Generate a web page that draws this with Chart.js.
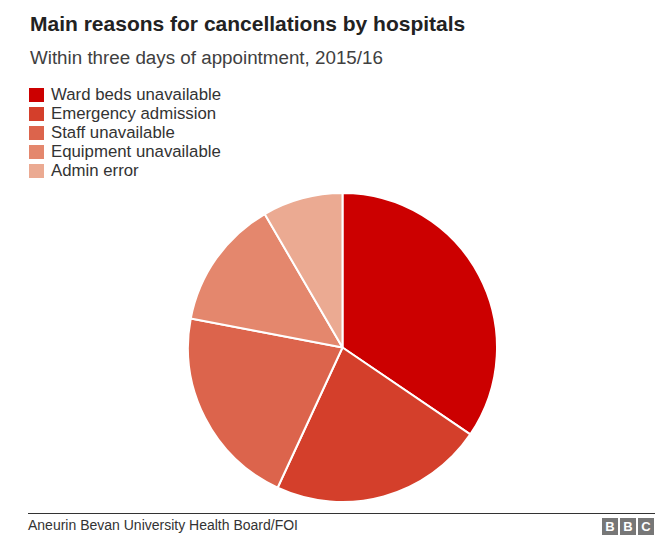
<!DOCTYPE html>
<html>
<head>
<meta charset="utf-8">
<script src="https://cdn.jsdelivr.net/npm/chart.js@4.4.0/dist/chart.umd.min.js"></script>
<style>
  body { margin: 0; background: #fff; font-family: "Liberation Sans", Arial, sans-serif; }
  #page { position: relative; width: 660px; height: 557px; overflow: hidden; }
  #title { position: absolute; left: 30px; top: 12px; font-size: 21px; font-weight: bold; color: #222; white-space: nowrap; }
  #subtitle { position: absolute; left: 30px; top: 47px; font-size: 18.8px; color: #404040; white-space: nowrap; }
  #legend { position: absolute; left: 29px; top: 85px; }
  .item { height: 19px; display: flex; align-items: center; font-size: 16.8px; color: #333; white-space: nowrap; }
  .swatch { width: 15px; height: 14px; margin-right: 7px; }
  #chartBox { position: absolute; left: 187px; top: 192px; width: 311px; height: 311px; }
  #rule { position: absolute; left: 28px; top: 513px; width: 627px; height: 1px; background: #333; }
  #source { position: absolute; left: 28px; top: 517px; font-size: 14px; color: #333; white-space: nowrap; }
  #bbc { position: absolute; left: 600px; top: 518px; display: flex; }
  #bbc div { width: 16px; height: 17px; margin-left: 2px; background: #777; color: #fff; font-weight: bold; font-size: 13px; text-align: center; line-height: 17px; }
</style>
</head>
<body>
<div id="page">
  <div id="title">Main reasons for cancellations by hospitals</div>
  <div id="subtitle">Within three days of appointment, 2015/16</div>
  <div id="legend"></div>
  <div id="chartBox"><canvas id="pie"></canvas></div>
  <div id="rule"></div>
  <div id="source">Aneurin Bevan University Health Board/FOI</div>
  <div id="bbc"><div>B</div><div>B</div><div>C</div></div>
</div>
<script>
// reasons and approximate share of cancellations (%)
var reasons = ['Ward beds unavailable', 'Emergency admission', 'Staff unavailable', 'Equipment unavailable', 'Admin error'];
var shares = [34.5, 22.4, 21.1, 13.6, 8.4];
var colors = ['#cc0000', '#d43f2b', '#dc644c', '#e4876d', '#ebaa92'];

// html legend
var legend = document.getElementById('legend');
for (var i = 0; i < reasons.length; i++) {
  var row = document.createElement('div');
  row.className = 'item';
  row.innerHTML = '<span class="swatch" style="background:' + colors[i] + '"></span>' + reasons[i];
  legend.appendChild(row);
}

var ctx = document.getElementById('pie');
var pieChart = new Chart(ctx, {
  type: 'pie',
  data: {
    labels: reasons,
    datasets: [{
      data: shares,
      backgroundColor: colors,
      borderColor: '#fff',
      borderWidth: 2
    }]
  },
  options: {
    responsive: true,
    maintainAspectRatio: false,
    animation: false,
    layout: { padding: 0 },
    plugins: {
      legend: { display: false },
      tooltip: { enabled: false }
    }
  }
});
</script>
</body>
</html>
